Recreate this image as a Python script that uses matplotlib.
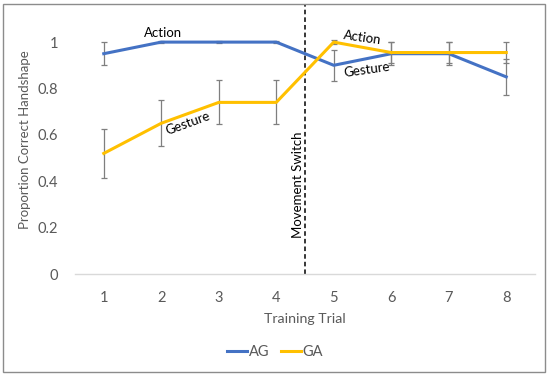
import matplotlib
matplotlib.use('Agg')
import matplotlib.pyplot as plt
from matplotlib.patches import Rectangle
from matplotlib.lines import Line2D

# Datos
trials = [1, 2, 3, 4, 5, 6, 7, 8]
ag = [0.95, 1.0, 1.0, 1.0, 0.90, 0.95, 0.95, 0.85]
ag_err = [0.05, 0.005, 0.005, 0.005, 0.067, 0.05, 0.05, 0.077]
ga = [0.52, 0.65, 0.74, 0.74, 1.0, 0.955, 0.955, 0.955]
ga_err = [0.105, 0.10, 0.095, 0.095, 0.008, 0.045, 0.045, 0.045]
yticks = [0, 0.2, 0.4, 0.6, 0.8, 1.0]
ytick_labels = ['0', '0.2', '0.4', '0.6', '0.8', '1']

plt.rcParams['font.family'] = ['Lato', 'DejaVu Sans']

fig = plt.figure(figsize=(5.5, 3.77), dpi=100)
ax = fig.add_axes([75 / 550, 1 - 274 / 377, 460 / 550, 269 / 377])

blue = '#4472C4'
yellow = '#FFC000'
grey = '#7F7F7F'
text_grey = '#595959'

ax.errorbar(trials, ag, yerr=ag_err, color=blue, lw=2.2, ecolor=grey,
            elinewidth=0.9, capsize=2.5, capthick=0.9, zorder=3)
ax.errorbar(trials, ga, yerr=ga_err, color=yellow, lw=2.2, ecolor=grey,
            elinewidth=0.9, capsize=2.5, capthick=0.9, zorder=4)

# Línea del cambio de movimiento
ax.axvline(4.5, color='black', lw=1.1, ls=(0, (3, 2)), zorder=2)
ax.text(4.38, 0.384, 'Movement Switch', rotation=90, ha='center', va='center',
        fontsize=9.5, color='black')

# Etiquetas sobre las líneas
ax.text(2.03, 1.039, 'Action', ha='center', va='center', fontsize=9.5)
ax.text(2.465, 0.651, 'Gesture', ha='center', va='center', fontsize=9.5, rotation=20)
ax.text(5.49, 1.02, 'Action', ha='center', va='center', fontsize=9.5, rotation=-8)
ax.text(5.58, 0.879, 'Gesture', ha='center', va='center', fontsize=9.5, rotation=8)

ax.set_xlim(0.5, 8.5)
ax.set_ylim(0, 1.16)
ax.set_xticks(trials)
ax.set_yticks(yticks)
ax.set_yticklabels(ytick_labels)
ax.tick_params(length=0, labelsize=10.5, colors=text_grey, pad=12)
ax.tick_params(axis='y', pad=12)
for side in ['top', 'right', 'left']:
    ax.spines[side].set_visible(False)
ax.spines['bottom'].set_color('#D9D9D9')
ax.spines['bottom'].set_linewidth(1)

fig.text(305 / 550, 1 - 319 / 377, 'Training Trial', ha='center', va='center',
         fontsize=10.2, color=text_grey)
fig.text(25 / 550, 1 - 140 / 377, 'Proportion Correct Handshape', rotation=90,
         ha='center', va='center', fontsize=9.5, color=text_grey)

handles = [Line2D([], [], color=blue, lw=2.2), Line2D([], [], color=yellow, lw=2.2)]
leg = fig.legend(handles, ['AG', 'GA'], loc='center',
                 bbox_to_anchor=(275 / 550, 1 - 352 / 377), ncol=2,
                 frameon=False, fontsize=10.5, handlelength=1.4, handletextpad=0.1,
                 columnspacing=0.8)
for t in leg.get_texts():
    t.set_color(text_grey)

fig.patches.append(Rectangle((3 / 550, 1 - 372 / 377), 542 / 550, 368 / 377,
                             transform=fig.transFigure, fill=False,
                             edgecolor='#8C8C8C', lw=1))

fig.savefig('out.png', dpi=100)
